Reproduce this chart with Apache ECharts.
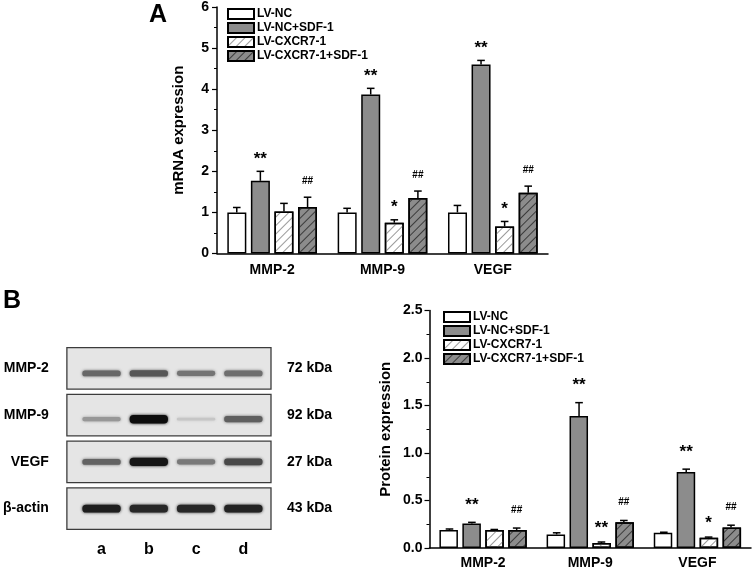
<!DOCTYPE html>
<html><head><meta charset="utf-8">
<script src="https://cdn.jsdelivr.net/npm/echarts@6/dist/echarts.min.js"></script>
<style>html,body{margin:0;padding:0;background:#fff}#c{width:754px;height:570px}</style>
</head><body><div id="c"></div>
<script>
// ---------- data ----------
const genes = ['MMP-2', 'MMP-9', 'VEGF'];
const groups = ['LV-NC', 'LV-NC+SDF-1', 'LV-CXCR7-1', 'LV-CXCR7-1+SDF-1'];

// Panel A: mRNA expression (mean, error)
const mrnaNC = [1.00, 1.00, 1.00];
const mrnaNCSDF = [1.77, 3.87, 4.60];
const mrnaCX = [1.02, 0.75, 0.66];
const mrnaCXSDF = [1.13, 1.35, 1.48];
const mrnaErrNC = [0.12, 0.10, 0.17];
const mrnaErrNCSDF = [0.23, 0.15, 0.10];
const mrnaErrCX = [0.20, 0.07, 0.12];
const mrnaErrCXSDF = [0.24, 0.17, 0.16];
const mrnaMarkNC = ['', '', ''];
const mrnaMarkNCSDF = ['**', '**', '**'];
const mrnaMarkCX = ['', '*', '*'];
const mrnaMarkCXSDF = ['##', '##', '##'];
const mrnaTicks = [0, 1, 2, 3, 4, 5, 6];

// Panel B: protein expression (mean, error)
const protNC = [0.19, 0.143, 0.16];
const protNCSDF = [0.257, 1.39, 0.80];
const protCX = [0.19, 0.052, 0.108];
const protCXSDF = [0.19, 0.27, 0.215];
const protErrNC = [0.01, 0.017, 0.006];
const protErrNCSDF = [0.013, 0.14, 0.03];
const protErrCX = [0.005, 0.011, 0.007];
const protErrCXSDF = [0.02, 0.02, 0.025];
const protMarkNC = ['', '', ''];
const protMarkNCSDF = ['**', '**', '**'];
const protMarkCX = ['', '**', '*'];
const protMarkCXSDF = ['##', '##', '##'];
const protTicks = [0, 0.5, 1.0, 1.5, 2.0, 2.5];

// Western blot: lanes, rows, band darkness (0..1)
const lanes = ['a', 'b', 'c', 'd'];
const blotRows = ['MMP-2', 'MMP-9', 'VEGF', 'β-actin'];
const blotKDa = ['72 kDa', '92 kDa', '27 kDa', '43 kDa'];
const bandMMP2 = [0.58, 0.66, 0.52, 0.55];
const bandMMP9 = [0.36, 1.00, 0.14, 0.62];
const bandVEGF = [0.60, 0.96, 0.50, 0.72];
const bandActin = [0.92, 0.88, 0.88, 0.90];

// ---------- styling ----------
const FONT = 'Liberation Sans, Arial, sans-serif';
const GRAY = '#8c8c8c';
const styles = [
  {color: '#ffffff', borderColor: '#000', borderWidth: 1.5},
  {color: GRAY, borderColor: '#000', borderWidth: 1.5},
  {color: '#ffffff', borderColor: '#000', borderWidth: 1.5,
   decal: {symbol: 'rect', symbolSize: 1, dashArrayX: [1, 0], dashArrayY: [1, 5], rotation: -Math.PI / 4, color: '#9a9a9a'}},
  {color: GRAY, borderColor: '#000', borderWidth: 1.5,
   decal: {symbol: 'rect', symbolSize: 1, dashArrayX: [1, 0], dashArrayY: [1, 5], rotation: -Math.PI / 4, color: '#3a3a3a'}}
];

function barSeries(name, xi, yi, vals, st, bw) {
  return {type: 'bar', name, xAxisIndex: xi, yAxisIndex: yi, data: vals,
    barWidth: bw, barGap: '24%', itemStyle: st, silent: true, z: 2};
}

function errSeries(xi, yi, vals, errs, marks, offset, markGap, starSize) {
  return {
    type: 'custom', xAxisIndex: xi, yAxisIndex: yi, z: 5, silent: true,
    data: vals.map((v, i) => [i, v, errs[i]]),
    encode: {x: 0, y: 1},
    renderItem(params, api) {
      const i = params.dataIndex;
      const base = api.coord([api.value(0), api.value(1)]);
      const top = api.coord([api.value(0), api.value(1) + api.value(2)]);
      const x = base[0] + offset;
      const children = [
        {type: 'line', shape: {x1: x, y1: base[1], x2: x, y2: top[1]}, style: {stroke: '#000', lineWidth: 1.5}},
        {type: 'line', shape: {x1: x - 3.8, y1: top[1], x2: x + 3.8, y2: top[1]}, style: {stroke: '#000', lineWidth: 1.5}}
      ];
      const m = marks[i];
      if (m) {
        const isHash = m[0] === '#';
        children.push({type: 'text', style: {
          text: m, x: x, y: top[1] - markGap + (isHash ? 0 : 4),
          align: 'center', verticalAlign: 'middle',
          font: isHash ? 'bold 10px ' + FONT : 'bold ' + starSize + 'px ' + FONT, fill: '#000'}});
      }
      return {type: 'group', children};
    }
  };
}

const bandShift = [5, 4, 0, 0];
const bandData = [];
[bandMMP2, bandMMP9, bandVEGF, bandActin].forEach((row, r) => row.forEach((d, l) => bandData.push([l, r, d])));

const offA = [-35.4, -11.8, 11.8, 35.4];
const offB = [-33.6, -11.2, 11.2, 33.6];

const axisLabelBold = (size) => ({fontFamily: FONT, fontWeight: 'bold', fontSize: size, color: '#000'});
const legendText = {fontFamily: FONT, fontWeight: 'bold', fontSize: 12, lineHeight: 10, color: '#000', padding: [0, 0, 0, -2]};

const option = {
  animation: false,
  backgroundColor: '#fff',
  title: [
    {text: 'A', left: 144, top: -2, textStyle: {fontFamily: FONT, fontWeight: 'bold', fontSize: 25, color: '#000'}},
    {text: 'B', left: -2, top: 284, textStyle: {fontFamily: FONT, fontWeight: 'bold', fontSize: 25, color: '#000'}}
  ],
  legend: [
    {data: groups, orient: 'vertical', left: 227, top: 8, padding: 0, itemWidth: 26, itemHeight: 10, itemGap: 2,
     icon: 'rect', textStyle: legendText, selectedMode: false},
    {data: groups, orient: 'vertical', left: 443, top: 311, padding: 0, itemWidth: 26, itemHeight: 10, itemGap: 2,
     icon: 'rect', textStyle: legendText, selectedMode: false}
  ],
  grid: [
    {left: 217, top: 7, width: 331, height: 246.5},
    {left: 429.5, top: 310.5, width: 321.5, height: 238},
    {left: 76, top: 345, width: 191, height: 187}
  ],
  xAxis: [
    {type: 'category', gridIndex: 0, data: genes,
     axisLine: {lineStyle: {color: '#000', width: 1.5}},
     axisTick: {alignWithLabel: true, length: 5, lineStyle: {color: '#000', width: 1.2}},
     axisLabel: Object.assign({margin: 10}, axisLabelBold(14))},
    {type: 'category', gridIndex: 0, data: genes, position: 'bottom',
     axisLine: {show: false},
     axisTick: {alignWithLabel: false, length: 3.5, lineStyle: {color: '#000', width: 1}},
     axisLabel: {show: false}},
    {type: 'category', gridIndex: 1, data: genes,
     axisLine: {lineStyle: {color: '#000', width: 1.5}},
     axisTick: {alignWithLabel: true, length: 5, lineStyle: {color: '#000', width: 1.2}},
     axisLabel: Object.assign({margin: 8}, axisLabelBold(14))},
    {type: 'category', gridIndex: 1, data: genes, position: 'bottom',
     axisLine: {show: false},
     axisTick: {alignWithLabel: false, length: 3.5, lineStyle: {color: '#000', width: 1}},
     axisLabel: {show: false}},
    {type: 'category', gridIndex: 2, data: lanes,
     axisLine: {show: false}, axisTick: {show: false},
     axisLabel: Object.assign({margin: 10}, axisLabelBold(16))}
  ],
  yAxis: [
    {type: 'value', gridIndex: 0, min: 0, max: 6, interval: 1,
     name: 'mRNA expression', nameLocation: 'middle', nameGap: 31,
     nameTextStyle: {fontFamily: FONT, fontWeight: 'bold', fontSize: 15, color: '#000'},
     axisLine: {show: true, lineStyle: {color: '#000', width: 1.5}},
     axisTick: {show: true, length: 5, lineStyle: {color: '#000', width: 1.2}},
     minorTick: {show: true, splitNumber: 2, length: 3, lineStyle: {color: '#000', width: 1}},
     splitLine: {show: false},
     axisLabel: Object.assign({margin: 8, formatter: v => mrnaTicks.includes(v) ? String(v) : ''}, axisLabelBold(14))},
    {type: 'value', gridIndex: 1, min: 0, max: 2.5, interval: 0.5,
     name: 'Protein expression', nameLocation: 'middle', nameGap: 36,
     nameTextStyle: {fontFamily: FONT, fontWeight: 'bold', fontSize: 15, color: '#000'},
     axisLine: {show: true, lineStyle: {color: '#000', width: 1.5}},
     axisTick: {show: true, length: 5, lineStyle: {color: '#000', width: 1.2}},
     minorTick: {show: true, splitNumber: 2, length: 3, lineStyle: {color: '#000', width: 1}},
     splitLine: {show: false},
     axisLabel: Object.assign({margin: 7, formatter: v => protTicks.includes(v) ? v.toFixed(1) : ''}, axisLabelBold(14))},
    {type: 'category', gridIndex: 2, data: blotRows, inverse: true, position: 'left',
     axisLine: {show: false}, axisTick: {show: false},
     axisLabel: Object.assign({margin: 29}, axisLabelBold(14))},
    {type: 'category', gridIndex: 2, data: blotKDa, inverse: true, position: 'right',
     axisLine: {show: false}, axisTick: {show: false},
     axisLabel: Object.assign({margin: 20}, axisLabelBold(14))}
  ],
  series: [
    barSeries(groups[0], 0, 0, mrnaNC, styles[0], 19),
    barSeries(groups[1], 0, 0, mrnaNCSDF, styles[1], 19),
    barSeries(groups[2], 0, 0, mrnaCX, styles[2], 19),
    barSeries(groups[3], 0, 0, mrnaCXSDF, styles[3], 19),
    errSeries(0, 0, mrnaNC, mrnaErrNC, mrnaMarkNC, offA[0], 16, 17),
    errSeries(0, 0, mrnaNCSDF, mrnaErrNCSDF, mrnaMarkNCSDF, offA[1], 16, 17),
    errSeries(0, 0, mrnaCX, mrnaErrCX, mrnaMarkCX, offA[2], 16, 17),
    errSeries(0, 0, mrnaCXSDF, mrnaErrCXSDF, mrnaMarkCXSDF, offA[3], 16, 17),

    barSeries(groups[0], 2, 1, protNC, styles[0], 18.5),
    barSeries(groups[1], 2, 1, protNCSDF, styles[1], 18.5),
    barSeries(groups[2], 2, 1, protCX, styles[2], 18.5),
    barSeries(groups[3], 2, 1, protCXSDF, styles[3], 18.5),
    errSeries(2, 1, protNC, protErrNC, protMarkNC, offB[0], 19, 17),
    errSeries(2, 1, protNCSDF, protErrNCSDF, protMarkNCSDF, offB[1], 21, 17),
    errSeries(2, 1, protCX, protErrCX, protMarkCX, offB[2], 18, 17),
    errSeries(2, 1, protCXSDF, protErrCXSDF, protMarkCXSDF, offB[3], 18, 17),

    // blot panels
    {type: 'custom', xAxisIndex: 4, yAxisIndex: 2, silent: true, z: 1,
     data: blotRows.map((r, i) => [0, i]),
     encode: {x: 0, y: 1},
     renderItem(params, api) {
       const cs = params.coordSys;
       const c = api.coord([0, api.value(1)]);
       const h = api.size([0, 1])[1] * 0.885;
       return {type: 'rect', shape: {x: cs.x - 11, y: c[1] - h / 2, width: cs.width + 15, height: h},
         style: {fill: '#e5e5e5', stroke: '#3c3c3c', lineWidth: 1.3}};
     }},
    // blot bands
    {type: 'custom', xAxisIndex: 4, yAxisIndex: 2, silent: true, z: 2,
     data: bandData,
     encode: {x: 0, y: 1},
     renderItem(params, api) {
       const l = api.value(0), r = api.value(1), d = api.value(2);
       const c = api.coord([l, r]);
       const w = api.size([1, 0])[0] * 0.81;
       const th = 2 + d * 6.5;
       const g = Math.round(228 - d * 215);
       const col = 'rgb(' + g + ',' + g + ',' + g + ')';
       return {type: 'rect', shape: {x: c[0] - w / 2, y: c[1] + bandShift[r] - th / 2, width: w, height: th, r: th / 2.2},
         style: {fill: col, shadowBlur: 3, shadowColor: col}};
     }}
  ]
};

const chart = echarts.init(document.getElementById('c'), null, {renderer: 'canvas'});
chart.setOption(option);
</script>
</body></html>
